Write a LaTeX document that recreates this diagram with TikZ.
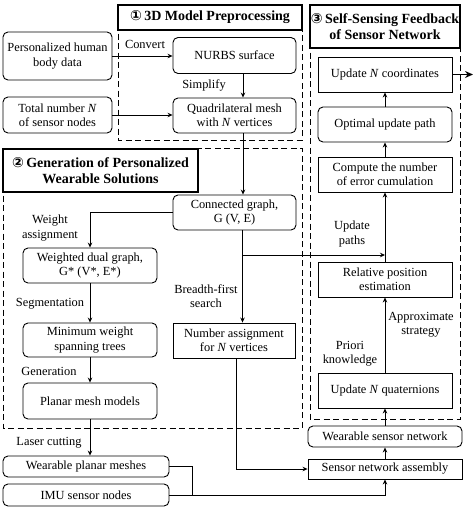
\documentclass[tikz,border=0pt]{standalone}
\usepackage{fontspec}
\setmainfont{Liberation Serif}
\newfontfamily\circfont{DejaVu Sans}
\usetikzlibrary{arrows.meta}
\begin{document}
\begin{tikzpicture}[x=1pt,y=-1pt,
  every node/.style={font=\fontsize{12.4}{14.2}\selectfont, align=center, inner sep=0pt},
  rbox/.style={draw, line width=0.9pt, rounded corners=5pt},
  sbox/.style={draw, line width=0.9pt},
  hbox/.style={draw, line width=1.3pt, fill=white, font=\fontsize{14}{16}\selectfont\bfseries},
  dbox/.style={draw, line width=0.9pt, dash pattern=on 6pt off 3.5pt},
  conn/.style={line width=0.8pt, -{Stealth[length=5pt,width=4.5pt]}},
  line/.style={line width=0.8pt},
  lbl/.style={font=\fontsize{12.4}{14.2}\selectfont}
]
\useasboundingbox (0,0) rectangle (474,512);
% dashed containers
\draw[dbox] (118,5) rectangle (302,140);
\draw[dbox] (3,148) rectangle (302,428);
\draw[dbox] (310,5) rectangle (460,419);
% headers
\node[hbox, minimum width=184, minimum height=25] (h1) at (210,17.5) {{\circfont\fontsize{14}{16}\selectfont ①}\,3D Model Preprocessing};
\node[hbox, minimum width=195, minimum height=43] (h2) at (100.5,170.5) {{\circfont\fontsize{14}{16}\selectfont ②}\,Generation of Personalized\\Wearable Solutions};
\node[hbox, minimum width=150, minimum height=43] (h3) at (385,26.5) {{\circfont\fontsize{14}{16}\selectfont ③}\,Self-Sensing Feedback\\of Sensor Network};
% section 1 boxes
\node[rbox, minimum width=109, minimum height=48] (pbd) at (57.5,56) {Personalized human\\body data};
\node[rbox, minimum width=109, minimum height=36] (tot) at (57.5,115) {Total number \textit{N}\\of sensor nodes};
\node[rbox, minimum width=123, minimum height=36] (nurbs) at (234.5,55.5) {NURBS surface};
\node[rbox, minimum width=123, minimum height=35] (quad) at (234.5,115.5) {Quadrilateral mesh\\with \textit{N} vertices};
% section 2 boxes
\node[rbox, minimum width=123, minimum height=35] (cg) at (234.5,212.5) {Connected graph,\\G (V, E)};
\node[rbox, minimum width=134, minimum height=35] (wdg) at (90,265.5) {Weighted dual graph,\\G* (V*, E*)};
\node[rbox, minimum width=134, minimum height=34] (mst) at (90,340) {Minimum weight\\spanning trees};
\node[rbox, minimum width=134, minimum height=36] (pmm) at (90,401) {Planar mesh models};
\node[sbox, minimum width=122, minimum height=35] (na) at (234,340.5) {Number assignment\\for \textit{N} vertices};
% section 3 boxes
\node[sbox, minimum width=134, minimum height=35] (unc) at (385,74.5) {Update \textit{N} coordinates};
\node[rbox, minimum width=134, minimum height=35] (oup) at (385,124.5) {Optimal update path};
\node[sbox, minimum width=134, minimum height=35] (cnec) at (385,174.5) {Compute the number\\of error cumulation};
\node[sbox, minimum width=134, minimum height=35] (rpe) at (385,279.5) {Relative position\\estimation};
\node[sbox, minimum width=134, minimum height=35] (unq) at (385,390.5) {Update \textit{N} quaternions};
% bottom boxes
\node[rbox, minimum width=154, minimum height=21] (wsn) at (385,436.5) {Wearable sensor network};
\node[sbox, minimum width=154, minimum height=20] (sna) at (385,469) {Sensor network assembly};
\node[rbox, minimum width=166, minimum height=21] (wpm) at (86,466.5) {Wearable planar meshes};
\node[rbox, minimum width=166, minimum height=22] (imu) at (86,495) {IMU sensor nodes};
% coordinates
\coordinate (j1) at (242.5,255);
\coordinate (j2) at (192,495);
\coordinate (outp) at (473,74.5);
% connectors section 1
\draw[conn] (pbd.east) -- (pbd.east -| nurbs.west);
\draw[conn] (tot.east) -- (tot.east -| quad.west);
\draw[conn] ([xshift=8.5]nurbs.south) -- ([xshift=8.5]quad.north);
\draw[conn] ([xshift=8.5]quad.south) -- ([xshift=8.5]cg.north);
% section 2
\draw[conn] ([xshift=8]cg.south) -- ([xshift=8.5]na.north);
\draw[conn] (j1) -- (j1 -| rpe.north);
\draw[conn] (cg.west) -| (wdg.north);
\draw[conn] (wdg.south) -- (mst.north);
\draw[conn] (mst.south) -- (pmm.north);
\draw[conn] (pmm.south) -- (pmm.south |- wpm.north);
\draw[conn] ([xshift=2]na.south) |- (sna.west);
% bottom
\draw[line] (wpm.east) -| (j2);
\draw[conn] (imu.east) -| (sna.south);
\draw[conn] (sna.north) -- (wsn.south);
\draw[conn] (wsn.north) -- (unq.south);
% section 3
\draw[conn] (unq.north) -- (rpe.south);
\draw[conn] (rpe.north) -- (cnec.south);
\draw[conn] (cnec.north) -- (oup.south);
\draw[conn] (oup.north) -- (unc.south);
\draw[line width=1.8pt, -{Stealth[length=8pt,width=7pt]}] (unc.east) -- (outp);
% labels
\node[lbl] (lconv) at (145,44) {Convert};
\node[lbl] (lsimp) at (204,85) {Simplify};
\node[lbl] (lwa) at (50,228) {Weight\\assignment};
\node[lbl] (lseg) at (50,304) {Segmentation};
\node[lbl] (lgen) at (49,371) {Generation};
\node[lbl] (llas) at (49,443) {Laser cutting};
\node[lbl] (lbfs) at (206,296) {Breadth-first\\search};
\node[lbl] (lup) at (352,234) {Update\\paths};
\node[lbl] (lapp) at (421,325) {Approximate\\strategy};
\node[lbl] (lpri) at (350,354) {Priori\\knowledge};
\end{tikzpicture}
\end{document}
